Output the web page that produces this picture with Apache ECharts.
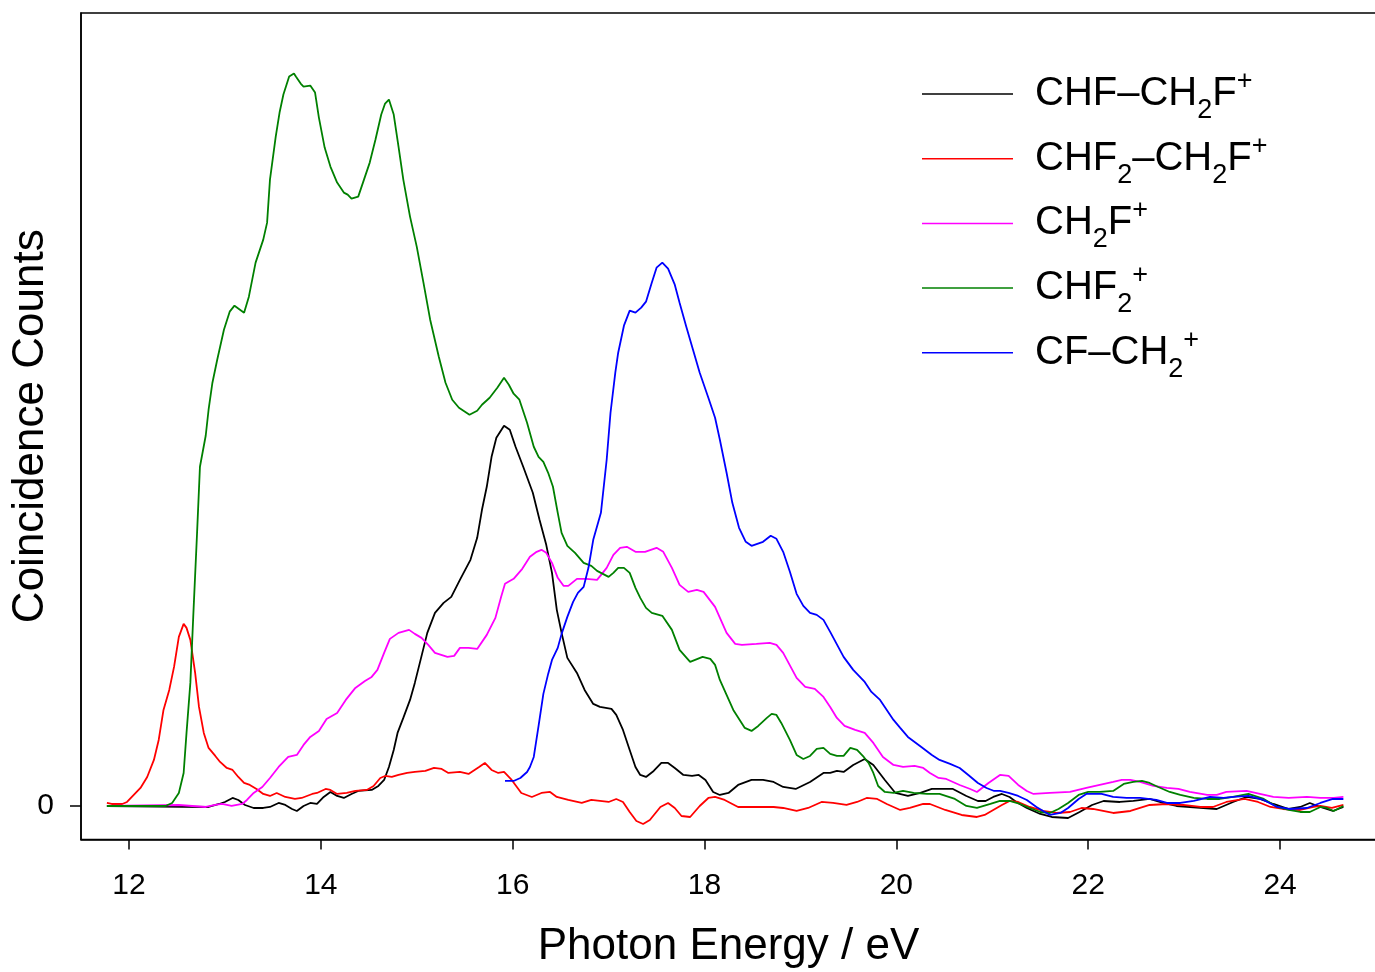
<!DOCTYPE html>
<html>
<head>
<meta charset="utf-8">
<script src="https://cdn.jsdelivr.net/npm/echarts@6/dist/echarts.min.js"></script>
<style>
html,body{margin:0;padding:0;background:#fff;}
#chart{width:1375px;height:972px;}
</style>
</head>
<body>
<div id="chart"></div>
<script>
// ---- Data (x: photon energy / eV, y: coincidence counts, arbitrary units) ----
const xTicks = [12, 14, 16, 18, 20, 22, 24];
const yTicks = [0];

const seriesNames = ['CHF–CH2F+', 'CHF2–CH2F+', 'CH2F+', 'CHF2+', 'CF–CH2+'];
const legendRich = [
  '{n|CHF–CH}{sb|2}{n|F}{sp|+}',
  '{n|CHF}{sb|2}{n|–CH}{sb|2}{n|F}{sp|+}',
  '{n|CH}{sb|2}{n|F}{sp|+}',
  '{n|CHF}{sb|2}{sp|+}',
  '{n|CF–CH}{sb|2}{sp|+}'
];
const seriesColors = ['#000000', '#ff0000', '#ff00ff', '#008000', '#0000ff'];

const chfCh2f = [[11.77,0],[12.83,-1],[12.94,2],[13.00,4],[13.08,8],[13.14,6],[13.21,1],[13.30,-2],[13.40,-2],[13.47,-1],[13.56,3],[13.63,1],[13.70,-3],[13.75,-5],[13.82,0],[13.89,3],[13.96,2],[14.03,9],[14.10,14],[14.17,10],[14.24,8],[14.32,12],[14.39,15],[14.53,16],[14.60,20],[14.66,26],[14.71,39],[14.76,56],[14.80,73],[14.86,88],[14.93,106],[14.98,123],[15.04,146],[15.11,173],[15.19,193],[15.28,203],[15.36,209],[15.45,226],[15.56,246],[15.63,268],[15.68,296],[15.73,319],[15.78,349],[15.83,368],[15.91,380],[15.97,376],[16.03,359],[16.11,339],[16.21,313],[16.28,286],[16.35,261],[16.41,233],[16.46,196],[16.51,173],[16.57,148],[16.67,133],[16.75,116],[16.84,102],[16.91,99],[17.03,97],[17.08,91],[17.15,76],[17.22,56],[17.28,39],[17.33,31],[17.39,29],[17.47,35],[17.55,43],[17.62,43],[17.69,38],[17.78,31],[17.87,30],[17.94,31],[18.01,26],[18.09,14],[18.16,11],[18.25,13],[18.35,21],[18.49,26],[18.61,26],[18.72,24],[18.82,19],[18.95,17],[19.10,24],[19.24,33],[19.31,33],[19.38,35],[19.45,34],[19.55,41],[19.67,47],[19.76,41],[19.88,26],[19.99,13],[20.12,10],[20.25,13],[20.37,17],[20.49,17],[20.59,17],[20.73,10],[20.85,5],[20.93,5],[21.01,9],[21.10,12],[21.18,9],[21.25,4],[21.36,-2],[21.50,-8],[21.62,-11],[21.79,-12],[21.91,-6],[22.04,1],[22.16,5],[22.33,4],[22.47,5],[22.64,7],[22.78,3],[22.92,0],[23.06,-1],[23.20,-2],[23.34,-3],[23.51,4],[23.65,9],[23.79,7],[23.93,2],[24.09,-3],[24.21,-1],[24.31,3],[24.42,-1],[24.55,-5],[24.66,-1]];

const chf2Ch2f = [[11.77,3],[11.82,2],[11.93,2],[11.98,4],[12.05,11],[12.12,18],[12.19,29],[12.26,46],[12.31,66],[12.36,96],[12.42,116],[12.47,139],[12.52,169],[12.57,182],[12.60,178],[12.64,166],[12.69,133],[12.73,99],[12.78,73],[12.83,58],[12.90,50],[12.95,44],[13.02,38],[13.08,36],[13.14,29],[13.20,23],[13.26,21],[13.33,17],[13.40,12],[13.47,10],[13.54,13],[13.63,9],[13.73,7],[13.80,8],[13.91,12],[13.96,13],[14.05,17],[14.10,16],[14.17,12],[14.27,13],[14.36,15],[14.48,16],[14.55,20],[14.62,28],[14.67,30],[14.74,29],[14.81,31],[14.90,33],[14.98,34],[15.09,35],[15.18,38],[15.26,37],[15.33,33],[15.45,34],[15.54,32],[15.65,39],[15.71,43],[15.78,36],[15.85,33],[15.91,34],[15.99,26],[16.09,13],[16.20,9],[16.30,13],[16.39,14],[16.46,9],[16.58,6],[16.72,3],[16.82,6],[17.00,4],[17.08,7],[17.15,4],[17.22,-6],[17.29,-15],[17.36,-18],[17.43,-14],[17.54,-1],[17.62,3],[17.69,-2],[17.76,-10],[17.85,-11],[17.95,0],[18.04,8],[18.11,9],[18.21,6],[18.35,-1],[18.51,-1],[18.72,-1],[18.82,-2],[18.96,-5],[19.08,-2],[19.22,4],[19.34,3],[19.48,1],[19.59,4],[19.69,8],[19.80,7],[19.90,2],[20.04,-4],[20.14,-2],[20.28,2],[20.35,2],[20.51,-4],[20.68,-9],[20.84,-11],[20.92,-9],[21.01,-4],[21.10,1],[21.18,5],[21.27,4],[21.39,-1],[21.53,-5],[21.67,-7],[21.81,-6],[21.93,-2],[22.05,-3],[22.26,-7],[22.44,-5],[22.64,1],[22.82,2],[22.99,1],[23.17,-1],[23.30,-1],[23.44,4],[23.63,7],[23.77,4],[23.90,-1],[24.03,-3],[24.21,-4],[24.35,-1],[24.42,0],[24.54,-2],[24.66,1]];

const ch2f = [[11.77,0],[12.52,1],[12.66,0],[12.80,-1],[12.90,1],[12.97,2],[13.07,0],[13.18,2],[13.23,6],[13.30,13],[13.39,19],[13.47,28],[13.56,39],[13.66,49],[13.75,51],[13.82,61],[13.89,69],[13.98,75],[14.06,87],[14.17,93],[14.26,106],[14.36,118],[14.46,125],[14.53,129],[14.59,136],[14.66,153],[14.72,167],[14.81,173],[14.92,176],[14.98,172],[15.05,168],[15.12,161],[15.19,153],[15.32,149],[15.39,150],[15.45,158],[15.54,158],[15.63,157],[15.73,171],[15.82,188],[15.88,209],[15.92,222],[16.01,227],[16.10,237],[16.18,249],[16.25,254],[16.30,256],[16.35,253],[16.41,243],[16.47,228],[16.53,220],[16.58,220],[16.67,227],[16.77,227],[16.88,226],[16.98,238],[17.05,251],[17.12,258],[17.19,259],[17.28,254],[17.38,254],[17.50,258],[17.57,254],[17.66,238],[17.74,221],[17.83,214],[17.92,216],[17.99,214],[18.11,199],[18.23,173],[18.32,162],[18.39,161],[18.54,162],[18.68,163],[18.75,161],[18.82,153],[18.96,128],[19.05,119],[19.15,117],[19.24,109],[19.31,99],[19.38,88],[19.46,80],[19.57,76],[19.67,73],[19.76,63],[19.86,49],[19.97,41],[20.07,39],[20.19,40],[20.28,38],[20.35,33],[20.44,28],[20.52,27],[20.66,21],[20.77,17],[20.84,14],[20.96,23],[21.08,31],[21.17,30],[21.27,21],[21.36,15],[21.43,12],[21.60,13],[21.81,14],[21.98,18],[22.12,21],[22.26,24],[22.35,26],[22.44,26],[22.54,24],[22.68,20],[22.82,18],[22.94,17],[23.06,14],[23.24,11],[23.34,11],[23.44,14],[23.65,15],[23.79,12],[23.93,9],[24.09,8],[24.28,9],[24.42,8],[24.56,8],[24.66,9]];

const chf2 = [[11.77,0],[12.38,0],[12.45,3],[12.52,13],[12.57,33],[12.60,73],[12.64,123],[12.67,189],[12.71,273],[12.74,339],[12.80,370],[12.83,396],[12.87,423],[12.92,446],[12.99,476],[13.05,494],[13.10,500],[13.20,493],[13.25,509],[13.32,543],[13.40,566],[13.44,583],[13.47,626],[13.53,669],[13.57,693],[13.61,711],[13.67,729],[13.72,732],[13.74,729],[13.79,722],[13.82,719],[13.89,720],[13.94,713],[13.98,688],[14.04,658],[14.10,639],[14.17,623],[14.24,613],[14.28,611],[14.32,607],[14.39,609],[14.45,626],[14.51,643],[14.57,666],[14.63,691],[14.67,702],[14.71,706],[14.76,691],[14.81,659],[14.86,626],[14.93,589],[15.00,559],[15.07,523],[15.14,486],[15.23,449],[15.30,423],[15.37,406],[15.44,398],[15.55,391],[15.63,395],[15.68,401],[15.76,408],[15.84,418],[15.91,428],[15.96,421],[16.01,412],[16.07,406],[16.15,383],[16.22,359],[16.27,349],[16.32,344],[16.37,333],[16.42,319],[16.47,293],[16.51,273],[16.57,260],[16.65,253],[16.74,243],[16.82,240],[16.88,235],[17.00,229],[17.05,233],[17.10,238],[17.16,238],[17.22,233],[17.28,218],[17.33,208],[17.39,198],[17.45,193],[17.56,190],[17.66,176],[17.74,156],[17.85,144],[17.98,149],[18.06,147],[18.11,141],[18.16,126],[18.23,111],[18.30,96],[18.42,78],[18.49,75],[18.56,80],[18.65,88],[18.70,92],[18.75,91],[18.80,83],[18.89,66],[18.96,51],[19.03,47],[19.10,50],[19.17,57],[19.24,58],[19.31,52],[19.38,50],[19.45,50],[19.52,58],[19.59,56],[19.66,49],[19.71,43],[19.76,33],[19.81,20],[19.88,14],[19.97,13],[20.07,15],[20.18,13],[20.32,12],[20.45,12],[20.61,7],[20.73,0],[20.84,-2],[20.98,2],[21.08,5],[21.18,5],[21.29,2],[21.39,-2],[21.50,-6],[21.60,-7],[21.69,-3],[21.79,3],[21.90,11],[22.00,14],[22.12,14],[22.26,15],[22.37,22],[22.47,24],[22.56,25],[22.64,23],[22.73,19],[22.85,14],[22.96,11],[23.10,8],[23.24,7],[23.37,7],[23.51,9],[23.67,12],[23.83,7],[23.97,-1],[24.09,-4],[24.21,-6],[24.31,-6],[24.42,-1],[24.49,-2],[24.56,-5],[24.66,0]];

const cfCh2 = [[15.92,25],[16.01,25],[16.08,28],[16.15,34],[16.18,39],[16.22,49],[16.27,80],[16.32,112],[16.37,132],[16.41,146],[16.47,158],[16.51,172],[16.57,189],[16.63,204],[16.68,213],[16.74,219],[16.79,238],[16.84,266],[16.92,293],[16.98,346],[17.02,393],[17.07,433],[17.10,453],[17.16,480],[17.22,495],[17.28,493],[17.34,498],[17.39,504],[17.45,523],[17.50,538],[17.56,543],[17.62,537],[17.69,521],[17.74,503],[17.81,479],[17.88,456],[17.95,433],[18.04,408],[18.11,388],[18.16,366],[18.23,333],[18.29,303],[18.36,278],[18.43,264],[18.49,260],[18.61,264],[18.69,270],[18.75,267],[18.82,254],[18.89,234],[18.96,212],[19.03,200],[19.10,193],[19.17,191],[19.24,186],[19.31,174],[19.45,149],[19.55,136],[19.67,124],[19.74,114],[19.83,106],[19.97,86],[20.04,78],[20.12,69],[20.26,59],[20.37,51],[20.45,46],[20.56,42],[20.66,38],[20.75,31],[20.85,23],[20.94,18],[21.02,15],[21.08,15],[21.17,13],[21.27,10],[21.36,6],[21.46,-1],[21.60,-9],[21.71,-7],[21.79,-2],[21.90,7],[21.98,12],[22.14,12],[22.26,9],[22.40,8],[22.54,8],[22.71,6],[22.82,3],[22.96,3],[23.10,5],[23.27,9],[23.41,8],[23.51,9],[23.67,10],[23.83,6],[23.97,-1],[24.10,-3],[24.28,-2],[24.42,3],[24.55,7],[24.66,7]];

const seriesData = [chfCh2f, chf2Ch2f, ch2f, chf2, cfCh2];

// ---- Chart ----
const FONT = '"Liberation Sans", Arial, Helvetica, sans-serif';
const chart = echarts.init(document.getElementById('chart'), null, {renderer: 'canvas'});

const option = {
  animation: false,
  backgroundColor: '#ffffff',
  textStyle: {fontFamily: FONT, color: '#000'},
  grid: {
    left: 81, top: 13, width: 1295, height: 826.5,
    containLabel: false, outerBoundsMode: 'none',
    show: true, borderColor: '#000', borderWidth: 1.5, backgroundColor: 'transparent'
  },
  xAxis: {
    type: 'value', min: 11.5, max: 25,
    name: 'Photon Energy / eV', nameLocation: 'middle', nameGap: 85, nameMoveOverlap: false,
    nameTextStyle: {fontSize: 44, color: '#000', fontFamily: FONT},
    axisLine: {show: true, onZero: false, lineStyle: {color: '#000', width: 1.5}},
    axisTick: {show: true, length: 10, customValues: xTicks, lineStyle: {color: '#000', width: 1.5}},
    axisLabel: {show: true, customValues: xTicks, fontSize: 30, color: '#000', margin: 31, fontFamily: FONT},
    splitLine: {show: false}
  },
  yAxis: {
    type: 'value', min: -33.5, max: 792.5,
    name: 'Coincidence Counts', nameLocation: 'middle', nameGap: 28, nameMoveOverlap: false,
    nameTextStyle: {fontSize: 44, color: '#000', fontFamily: FONT},
    axisLine: {show: true, onZero: false, lineStyle: {color: '#000', width: 1.5}},
    axisTick: {show: true, length: 11, customValues: yTicks, lineStyle: {color: '#000', width: 1.5}},
    axisLabel: {show: true, customValues: yTicks, fontSize: 30, color: '#000', margin: 27, fontFamily: FONT},
    splitLine: {show: false}
  },
  legend: {
    orient: 'vertical', left: 922, top: 64, padding: 0,
    icon: 'rect', itemWidth: 91, itemHeight: 1.5, itemGap: 4.7,
    data: seriesNames,
    formatter: function (name) { return legendRich[seriesNames.indexOf(name)]; },
    textStyle: {
      color: '#000', fontFamily: FONT, padding: [0, 0, 0, 17],
      rich: {
        n: {fontSize: 40, lineHeight: 60, verticalAlign: 'middle', fontFamily: FONT, color: '#000'},
        sb: {fontSize: 27, lineHeight: 27, verticalAlign: 'bottom', fontFamily: FONT, color: '#000'},
        sp: {fontSize: 27, lineHeight: 27, verticalAlign: 'top', fontFamily: FONT, color: '#000', padding: [4, 0, 0, 0]}
      }
    }
  },
  series: seriesNames.map(function (name, i) {
    return {
      name: name, type: 'line', data: seriesData[i],
      symbol: 'none', showSymbol: false, smooth: false,
      color: seriesColors[i],
      lineStyle: {color: seriesColors[i], width: 1.8},
      emphasis: {disabled: true}
    };
  })
};
chart.setOption(option);
</script>
</body>
</html>
